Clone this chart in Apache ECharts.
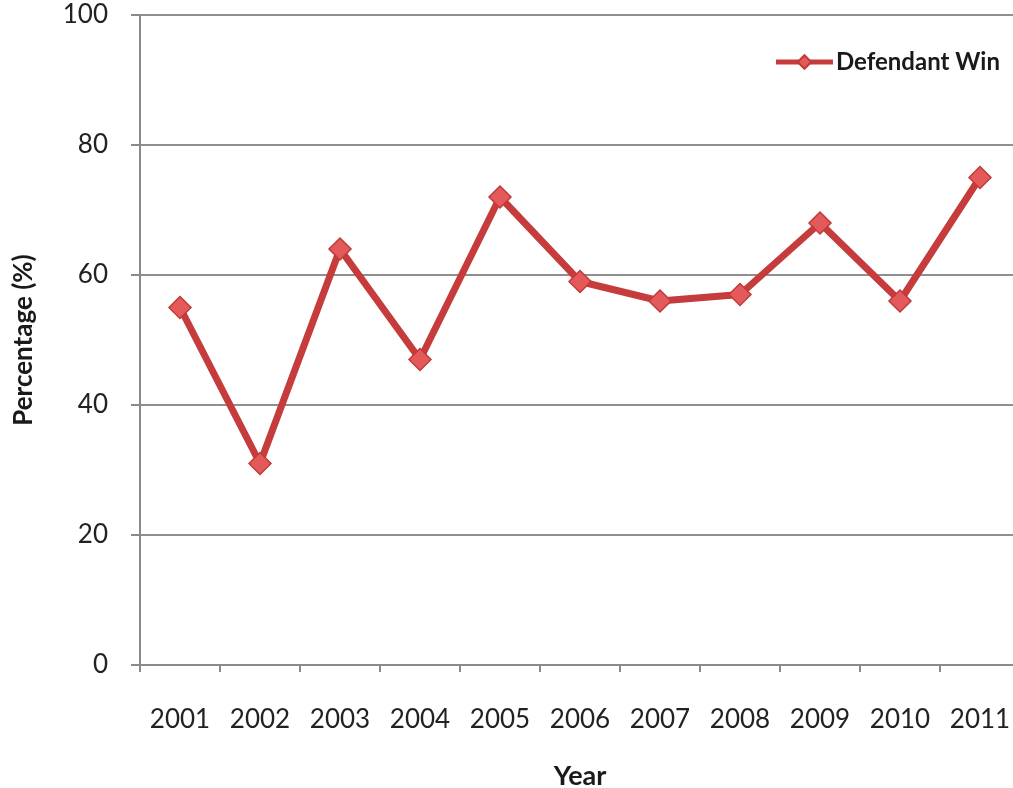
<!DOCTYPE html>
<html>
<head>
<meta charset="utf-8">
<script src="https://cdn.jsdelivr.net/npm/echarts@6/dist/echarts.min.js"></script>
<style>
  html, body { margin: 0; padding: 0; background: #fff; }
  #chart { width: 1013px; height: 788px; }
</style>
</head>
<body>
<div id="chart"></div>
<script>
// Share of cases won by the defendant, per year
const years = ['2001', '2002', '2003', '2004', '2005', '2006', '2007', '2008', '2009', '2010', '2011'];
const defendantWin = [55, 31, 64, 47, 72, 59, 56, 57, 68, 56, 75];
const yTicks = { min: 0, max: 100, interval: 20 };

const FONT = 'Lato, "Open Sans", sans-serif';
const chart = echarts.init(document.getElementById('chart'), null, { renderer: 'canvas' });

chart.setOption({
  backgroundColor: '#ffffff',
  animation: false,
  grid: {
    left: 140, right: -7, top: 15, bottom: 123,
    containLabel: false,
    outerBoundsMode: 'none'
  },
  legend: {
    right: 8,
    top: 45,
    itemWidth: 57,
    itemHeight: 17,
    itemGap: 4,
    lineStyle: { width: 5 },
    textStyle: { fontFamily: FONT, fontSize: 24, fontWeight: 'bold', color: '#1a1a1a', padding: [0, 0, 0, -2] },
    data: ['Defendant Win']
  },
  xAxis: {
    type: 'category',
    data: years,
    boundaryGap: true,
    name: 'Year',
    nameLocation: 'middle',
    nameGap: 98,
    nameTextStyle: { fontFamily: FONT, fontSize: 27, fontWeight: 'bold', color: '#1a1a1a' },
    axisLine: { lineStyle: { color: '#8a8a8a', width: 2 } },
    axisTick: { show: true, alignWithLabel: false, length: 7, lineStyle: { color: '#8a8a8a', width: 2 } },
    axisLabel: { fontFamily: FONT, fontSize: 26, color: '#222', margin: 42 },
    splitLine: { show: false }
  },
  yAxis: {
    type: 'value',
    min: yTicks.min,
    max: yTicks.max,
    interval: yTicks.interval,
    name: 'Percentage (%)',
    nameLocation: 'middle',
    nameGap: 103,
    nameRotate: 90,
    nameTextStyle: { fontFamily: FONT, fontSize: 26, fontWeight: 'bold', color: '#1a1a1a' },
    axisLine: { show: true, lineStyle: { color: '#8a8a8a', width: 2 } },
    axisTick: { show: true, length: 9, lineStyle: { color: '#8a8a8a', width: 2 } },
    axisLabel: { fontFamily: FONT, fontSize: 26, color: '#222', margin: 32 },
    splitLine: { show: true, lineStyle: { color: '#8f8f8f', width: 2 } }
  },
  series: [{
    name: 'Defendant Win',
    type: 'line',
    data: defendantWin,
    symbol: 'diamond',
    symbolSize: 22,
    lineStyle: { color: '#c63c3c', width: 7 },
    itemStyle: { color: '#e45a5a', borderColor: '#c13a3a', borderWidth: 1.5 }
  }]
});
</script>
</body>
</html>
